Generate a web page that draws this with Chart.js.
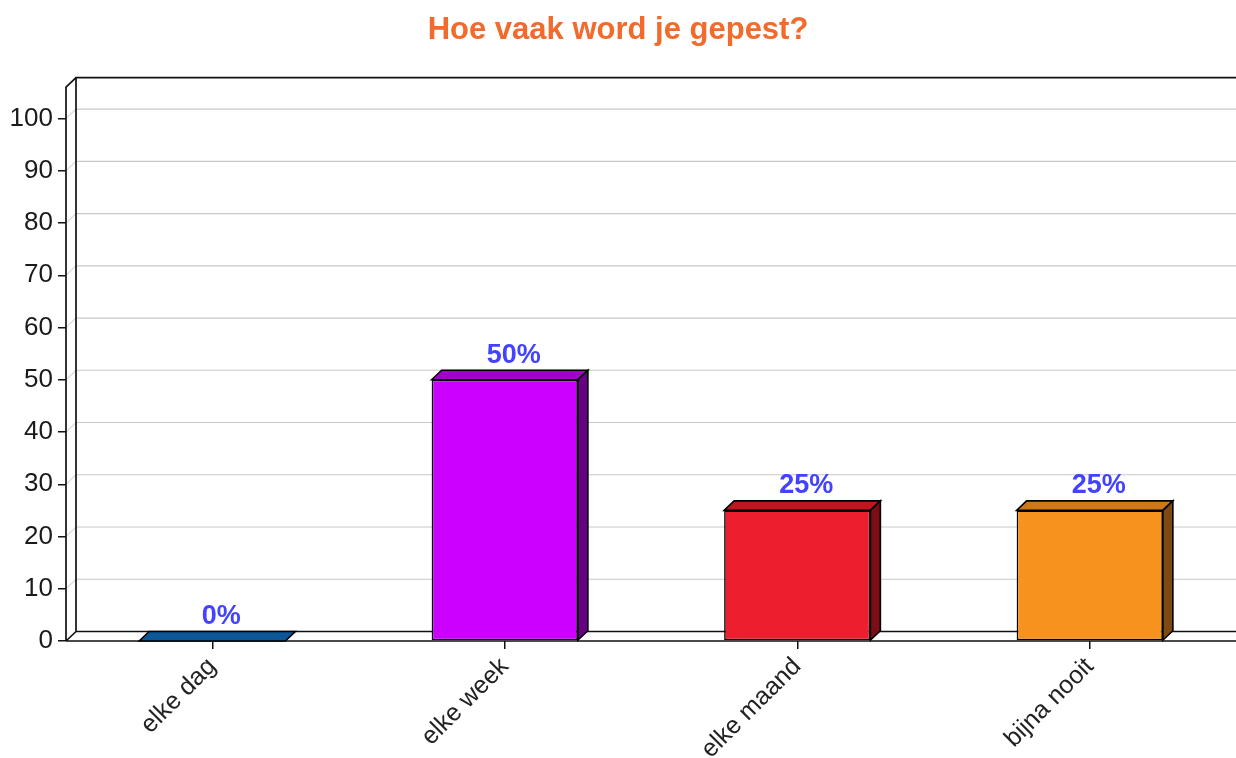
<!DOCTYPE html>
<html>
<head>
<meta charset="utf-8">
<script src="https://cdn.jsdelivr.net/npm/chart.js@4.4.1/dist/chart.umd.min.js"></script>
<style>
  html, body { margin: 0; padding: 0; background: #ffffff; }
  #wrap { width: 1236px; height: 758px; position: relative; }
</style>
</head>
<body>
<div id="wrap"><canvas id="c"></canvas></div>
<script>
const chartTitle = 'Hoe vaak word je gepest?';
const categories = ['elke dag', 'elke week', 'elke maand', 'bijna nooit'];
const values = [0, 50, 25, 25];
const valueLabels = ['0%', '50%', '25%', '25%'];
const yTickValues = [0, 10, 20, 30, 40, 50, 60, 70, 80, 90, 100];
const frontColors = ['#0b5797', '#cc00ff', '#ed1f2e', '#f7921e'];
const topColors = ['#0b5797', '#a300cc', '#c0171f', '#cf7818'];
const sideColors = ['#06355d', '#680084', '#7a0f16', '#7e4a12'];

const DX = 10, DY = 9.5;
const FONT = "'Liberation Sans', Arial, Helvetica, sans-serif";
Chart.defaults.font.family = FONT;

const frame3d = {
  id: 'frame3d',
  beforeDatasetsDraw(chart) {
    const ctx = chart.ctx;
    const a = chart.chartArea;
    const ys = chart.scales.y;
    const L = a.left, R = chart.width, T = a.top, B = a.bottom;
    ctx.save();
    yTickValues.forEach(v => {
      if (v === 0) return;
      const py = ys.getPixelForValue(v);
      ctx.strokeStyle = '#c8c8c8';
      ctx.lineWidth = 1.2;
      ctx.beginPath();
      ctx.moveTo(L + DX, py - DY);
      ctx.lineTo(R, py - DY);
      ctx.stroke();
      ctx.strokeStyle = '#dcdcdc';
      ctx.beginPath();
      ctx.moveTo(L, py);
      ctx.lineTo(L + DX, py - DY);
      ctx.stroke();
    });
    ctx.strokeStyle = '#111';
    ctx.lineWidth = 1.7;
    ctx.beginPath();
    ctx.moveTo(L + DX, B - DY);
    ctx.lineTo(L + DX, T - DY);
    ctx.lineTo(R, T - DY);
    ctx.moveTo(L, B);
    ctx.lineTo(L, T);
    ctx.lineTo(L + DX, T - DY);
    ctx.moveTo(L, B);
    ctx.lineTo(R, B);
    ctx.moveTo(L + DX, B - DY);
    ctx.lineTo(R, B - DY);
    ctx.moveTo(L, B);
    ctx.lineTo(L + DX, B - DY);
    ctx.stroke();
    ctx.restore();
  },
  afterDatasetsDraw(chart) {
    const ctx = chart.ctx;
    const meta = chart.getDatasetMeta(0);
    ctx.save();
    ctx.lineJoin = 'miter';
    meta.data.forEach((el, i) => {
      const p = el.getProps(['x', 'y', 'base', 'width'], true);
      const l = p.x - p.width / 2, r = p.x + p.width / 2;
      const top = p.y, bot = p.base;
      ctx.strokeStyle = '#000';
      ctx.lineWidth = 1.6;
      ctx.fillStyle = topColors[i];
      ctx.beginPath();
      ctx.moveTo(l, top);
      ctx.lineTo(l + DX, top - DY);
      ctx.lineTo(r + DX, top - DY);
      ctx.lineTo(r, top);
      ctx.closePath();
      ctx.fill();
      ctx.stroke();
      if (bot - top > 0.5) {
        ctx.fillStyle = sideColors[i];
        ctx.beginPath();
        ctx.moveTo(r, top);
        ctx.lineTo(r + DX, top - DY);
        ctx.lineTo(r + DX, bot - DY);
        ctx.lineTo(r, bot);
        ctx.closePath();
        ctx.fill();
        ctx.stroke();
      }
      ctx.fillStyle = '#4242ff';
      ctx.font = 'bold 27px ' + FONT;
      ctx.textAlign = 'center';
      ctx.textBaseline = 'alphabetic';
      ctx.fillText(valueLabels[i], p.x + 9, top - 17);
    });
    ctx.restore();
  }
};

new Chart(document.getElementById('c'), {
  type: 'bar',
  data: {
    labels: categories,
    datasets: [{
      data: values,
      backgroundColor: frontColors,
      borderColor: '#000',
      borderWidth: 1.6,
      borderSkipped: false,
      categoryPercentage: 0.5,
      barPercentage: 1.0
    }]
  },
  options: {
    responsive: true,
    maintainAspectRatio: false,
    animation: false,
    devicePixelRatio: 1,
    layout: { padding: { top: 0, left: 0, right: 0, bottom: 0 } },
    plugins: {
      legend: { display: false },
      tooltip: { enabled: false },
      title: {
        display: true,
        text: chartTitle,
        color: '#f26a2c',
        font: { size: 31, weight: 'bold', family: FONT },
        padding: { top: 12, bottom: 38 }
      }
    },
    scales: {
      x: {
        offset: true,
        grid: { display: true, drawOnChartArea: false, drawTicks: true, tickLength: 8, color: '#111', lineWidth: 1.5, offset: false },
        border: { display: false },
        ticks: { color: '#222', font: { size: 25 }, minRotation: 45, maxRotation: 45, padding: 3, autoSkip: false },
        afterFit(scale) { scale.height = 117; }
      },
      y: {
        min: 0,
        max: 106,
        grid: { display: true, drawOnChartArea: false, drawTicks: true, tickLength: 8, color: '#111', lineWidth: 1.5 },
        border: { display: false },
        ticks: { color: '#1a1a1a', font: { size: 26 }, padding: 5 },
        afterBuildTicks(scale) { scale.ticks = yTickValues.map(v => ({ value: v })); },
        afterFit(scale) { scale.width = 66; }
      }
    }
  },
  plugins: [frame3d]
});
</script>
</body>
</html>
